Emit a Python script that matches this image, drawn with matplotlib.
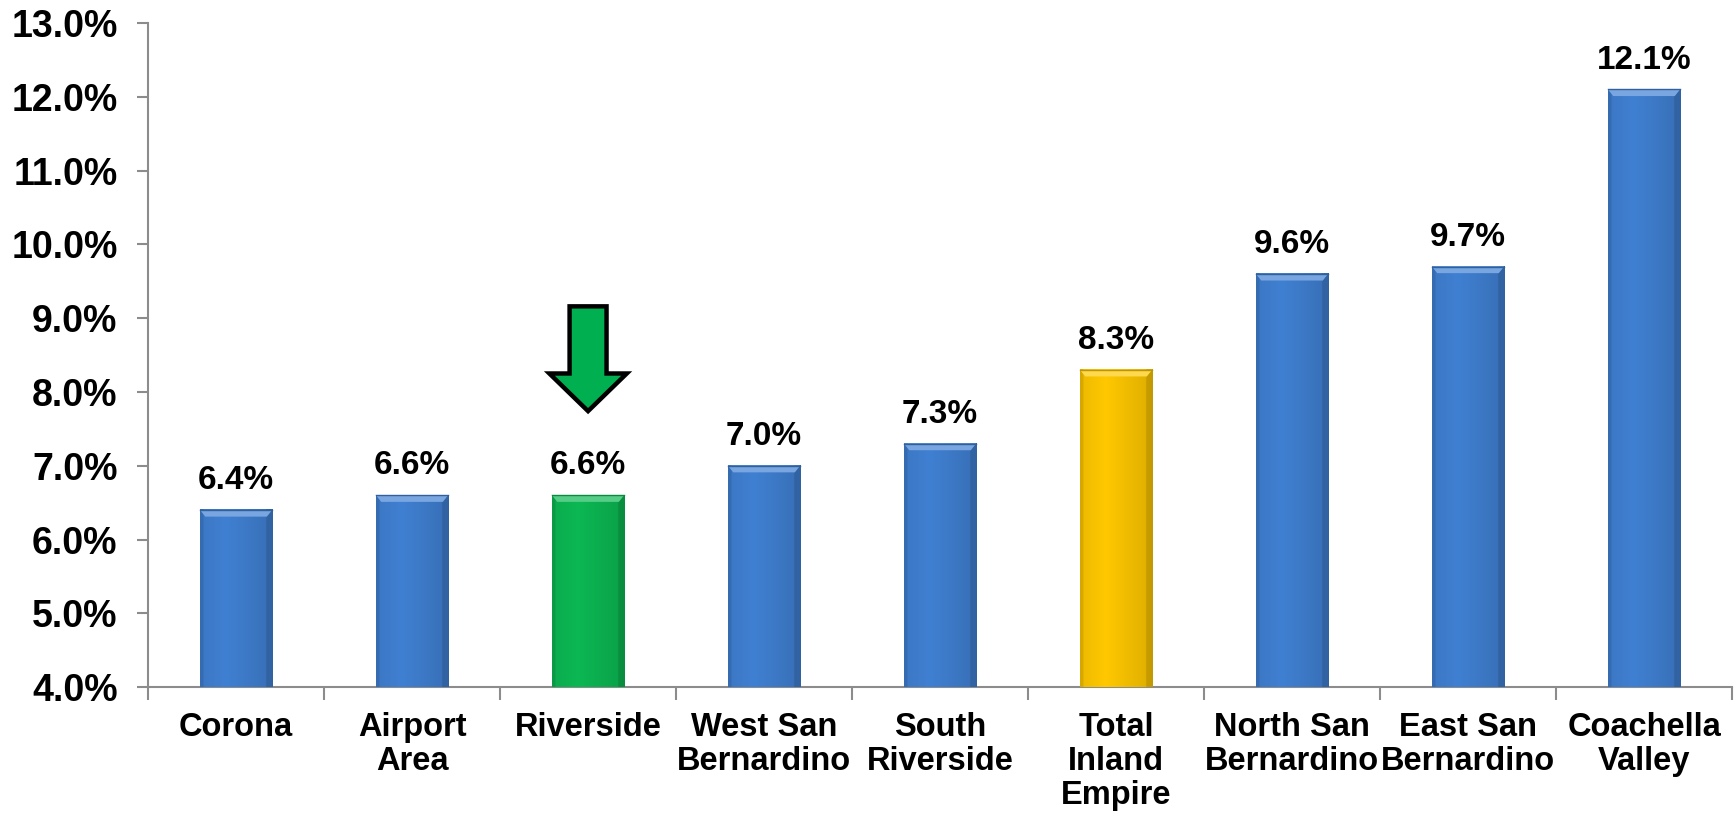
import numpy as np
import matplotlib.pyplot as plt
from matplotlib.patches import Polygon
from matplotlib.ticker import FixedLocator, FuncFormatter

# ---------- data ----------
regions = ["Corona", "Airport\nArea", "Riverside", "West San\nBernardino", "South\nRiverside",
           "Total\nInland\nEmpire", "North San\nBernardino", "East San\nBernardino", "Coachella\nValley"]
rates = [6.4, 6.6, 6.6, 7.0, 7.3, 8.3, 9.6, 9.7, 12.1]
bar_colors = ["#4080D2", "#4080D2", "#0CB853", "#4080D2", "#4080D2",
              "#FFC800", "#4080D2", "#4080D2", "#4080D2"]
highlight = "Riverside"

plt.rcParams['font.family'] = ['Liberation Sans', 'DejaVu Sans']
plt.rcParams['font.weight'] = 'bold'

fig = plt.figure(figsize=(17.36, 8.16), dpi=100)
ax = fig.add_axes([0.0853, 0.158, 0.9124, 0.8138])

x = np.arange(len(regions))
width = 0.41
ymin = 4.0
bars = ax.bar(x, [r - ymin for r in rates], width=width, bottom=ymin,
              color=bar_colors, edgecolor="none", zorder=2)


def shade(c, f):
    c = np.array(plt.matplotlib.colors.to_rgb(c))
    return np.clip(c * f if f < 1 else c + (1 - c) * (f - 1), 0, 1)


# bevel-ish shading on each bar: dark sides, light cap
for b, c in zip(bars, bar_colors):
    x0, w = b.get_x(), b.get_width()
    y0, h = b.get_y(), b.get_height()
    t = np.linspace(0, 1, 64)
    prof = 1.0 - 0.10 * np.abs(t - 0.35) * 2
    prof[-6:] *= 0.88
    prof[:3] *= 0.9
    img = np.array([[shade(c, p) for p in prof]])
    ax.imshow(img, extent=(x0, x0 + w, y0, y0 + h), aspect="auto", zorder=3, interpolation="bilinear")
    cap = 0.09
    ax.add_patch(Polygon([(x0, y0 + h), (x0 + w, y0 + h), (x0 + w - 0.03, y0 + h - cap),
                          (x0 + 0.03, y0 + h - cap)], closed=True,
                         facecolor=shade(c, 1.3), edgecolor="none", zorder=4))
    ax.plot([x0, x0 + w], [y0 + h, y0 + h], color=shade(c, 0.75), lw=1, zorder=5)

for xi, r in zip(x, rates):
    ax.annotate(f"{r:.1f}%", (xi, r), xytext=(0, 10), textcoords="offset points",
                ha="center", va="bottom", fontsize=24, fontweight="bold")

# arrow pointing at the highlighted region
hx = regions.index(highlight)
hw, sw = 0.22, 0.105
tip, neck, top = 7.74, 8.25, 9.16
ax.add_patch(Polygon([(hx - sw, top), (hx + sw, top), (hx + sw, neck), (hx + hw, neck),
                      (hx, tip), (hx - hw, neck), (hx - sw, neck)], closed=True,
                     facecolor="#00B050", edgecolor="black", lw=3.2, joinstyle="miter", zorder=6))

ax.set_xlim(-0.5, len(regions) - 0.5)
ax.set_ylim(4.0, 13.0)
ax.set_yticks(np.arange(4, 13.5, 1.0))
ax.yaxis.set_major_formatter(FuncFormatter(lambda v, p: f"{v:.1f}%"))
ax.set_xticks(x)
ax.set_xticklabels(regions, fontsize=23.5, fontweight="bold", linespacing=1.12)
ax.xaxis.set_minor_locator(FixedLocator(np.arange(-0.5, len(regions), 1.0)))
ax.tick_params(axis="x", which="major", length=0, pad=18)
ax.tick_params(axis="x", which="minor", length=9, width=1.5, color="#8C8C8C", direction="out")
ax.tick_params(axis="y", length=8, width=1.5, color="#8C8C8C", labelsize=27, pad=14)
for lbl in ax.get_yticklabels():
    lbl.set_fontweight("bold")

for s in ["top", "right"]:
    ax.spines[s].set_visible(False)
for s in ["left", "bottom"]:
    ax.spines[s].set_color("#8C8C8C")
    ax.spines[s].set_linewidth(1.5)

fig.savefig("out.png", dpi=100)
